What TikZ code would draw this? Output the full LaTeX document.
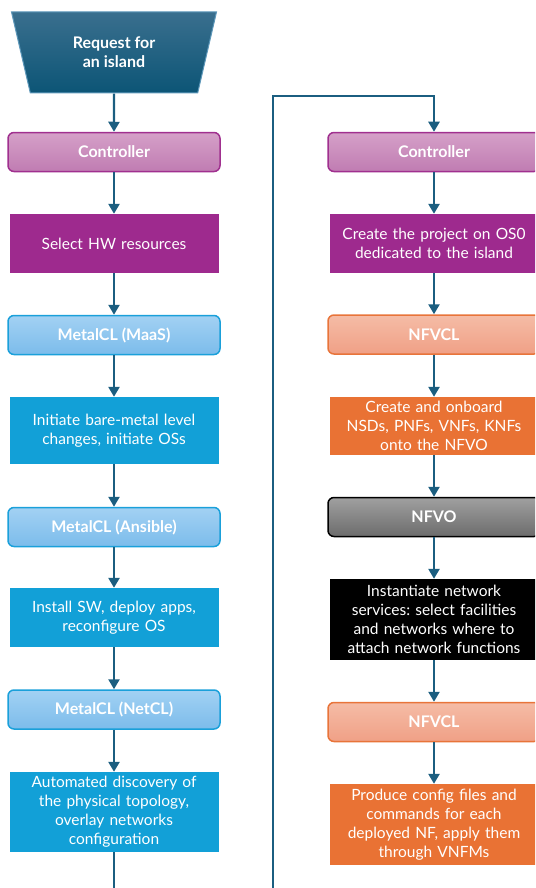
\documentclass[tikz,border=0pt]{standalone}
\usepackage{fontspec}
\setmainfont{Lato}
\usetikzlibrary{arrows.meta,shapes.geometric}
\frenchspacing

\definecolor{flowblue}{HTML}{1B5E80}
\definecolor{reqtop}{HTML}{3A6F8E}
\definecolor{reqbot}{HTML}{0C5576}
\definecolor{reqedge}{HTML}{5E98BA}
\definecolor{ctrltop}{HTML}{D5A0C8}
\definecolor{ctrlbot}{HTML}{C07CB2}
\definecolor{ctrledge}{HTML}{A0308F}
\definecolor{ctrlfill}{HTML}{9E2A8E}
\definecolor{metaltop}{HTML}{A2D1F3}
\definecolor{metalbot}{HTML}{7CBCEB}
\definecolor{metaledge}{HTML}{1AA0DA}
\definecolor{metalfill}{HTML}{12A0D7}
\definecolor{nfvtop}{HTML}{F5BCA6}
\definecolor{nfvbot}{HTML}{F0A086}
\definecolor{nfvedge}{HTML}{E8743A}
\definecolor{nfvfill}{HTML}{E97234}
\definecolor{orchtop}{HTML}{A0A0A0}
\definecolor{orchbot}{HTML}{6C6C6C}

\tikzset{
	box/.style={text=white, align=center, inner sep=2pt, font=\fontsize{15.5}{19}\selectfont},
	role/.style={box, rounded corners=6pt, line width=1.5pt, minimum width=212pt, minimum height=39pt, font=\bfseries\fontsize{16}{19}\selectfont},
	task/.style={box, minimum width=209pt, text width=204pt},
	ctrl/.style={role, draw=ctrledge, top color=ctrltop, bottom color=ctrlbot},
	metal/.style={role, draw=metaledge, top color=metaltop, bottom color=metalbot},
	nfv/.style={role, draw=nfvedge, top color=nfvtop, bottom color=nfvbot},
	orch/.style={role, draw=black, top color=orchtop, bottom color=orchbot},
	flow/.style={draw=flowblue, line width=2.4pt, line join=miter, -{Triangle[width=11pt,length=10pt]}},
	flowline/.style={draw=flowblue, line width=2.4pt}
}

\begin{document}
\begin{tikzpicture}[x=1pt, y=-1pt]
	\useasboundingbox (0,0) rectangle (535,888);
	\clip (0,0) rectangle (535,888);
	% left column
	\node[trapezium, trapezium angle=63.4, shape border rotate=180, trapezium stretches body,
		minimum width=205pt, minimum height=81pt, draw=reqedge, line width=1pt,
		top color=reqtop, bottom color=reqbot, text=white, align=center,
		font=\bfseries\fontsize{16}{19}\selectfont] (req) at (114,52.5) {Request for\\an island};
	\node[ctrl] (ctrlL) at (114,152) {Controller};
	\node[task, fill=ctrlfill, minimum height=59pt] (hw) at (114,243.5) {Select HW resources};
	\node[metal] (maas) at (114,335) {MetalCL (MaaS)};
	\node[task, fill=metalfill, minimum height=67pt] (bare) at (114,430.5) {Initiate bare-metal level\\changes, initiate OSs};
	\node[metal] (ansible) at (114,527) {MetalCL (Ansible)};
	\node[task, fill=metalfill, minimum height=59pt] (sw) at (114,617.5) {Install SW, deploy apps,\\reconfigure OS};
	\node[metal] (netcl) at (114,709.5) {MetalCL (NetCL)};
	\node[task, fill=metalfill, minimum height=80pt] (topo) at (114,812) {Automated discovery of\\the physical topology,\\overlay networks\\configuration};
	% right column
	\node[ctrl] (ctrlR) at (434,152) {Controller};
	\node[task, fill=ctrlfill, minimum height=59pt] (proj) at (434,243.5) {Create the project on OS0\\dedicated to the island};
	\node[nfv] (nfvclA) at (434,334.5) {NFVCL};
	\node[task, fill=nfvfill, minimum height=58pt] (onb) at (434,426) {Create and onboard\\NSDs, PNFs, VNFs, KNFs\\onto the NFVO};
	\node[orch] (nfvo) at (434,517) {NFVO};
	\node[task, fill=black, minimum height=81pt] (inst) at (434,619.5) {Instantiate network\\services: select facilities\\and networks where to\\attach network functions};
	\node[nfv] (nfvclB) at (434,722) {NFVCL};
	\node[task, fill=nfvfill, minimum height=81pt] (conf) at (434,824.5) {Produce config files and\\commands for each\\deployed NF, apply them\\through VNFMs};
	% connectors
	\foreach \a/\b in {req/ctrlL, ctrlL/hw, hw/maas, maas/bare, bare/ansible, ansible/sw, sw/netcl, netcl/topo,
		ctrlR/proj, proj/nfvclA, nfvclA/onb, onb/nfvo, nfvo/inst, inst/nfvclB, nfvclB/conf}
		\draw[flow] (\a) -- (\b);
	\coordinate (outL) at (114,890);
	\coordinate (backB) at (273,890);
	\coordinate (backT) at (273,96);
	\coordinate (overR) at (434,96);
	\draw[flowline] (topo) -- (outL);
	\draw[flow] (backB) -- (backT) -- (overR) -- (ctrlR);
\end{tikzpicture}
\end{document}
